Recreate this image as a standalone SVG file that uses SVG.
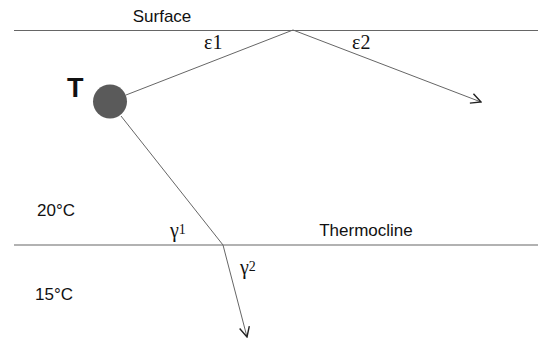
<svg xmlns="http://www.w3.org/2000/svg" width="538" height="340" viewBox="0 0 538 340">
<style>
.lbl{font-family:"Liberation Sans",Arial,sans-serif;font-size:17px;fill:#111}
.greek{font-family:"Liberation Serif","Times New Roman",serif;font-size:20px;fill:#111}
.boundary{stroke:#666;stroke-width:1.2;fill:none}
.ray{stroke:#666;stroke-width:1;fill:none}
</style>
<defs>
<marker id="arr" viewBox="0 0 12 12" refX="11" refY="6" markerWidth="12" markerHeight="12" markerUnits="userSpaceOnUse" orient="auto">
<path d="M1,1 L11,6 L1,11" fill="none" stroke="#222" stroke-width="1.4"/>
</marker>
</defs>
<rect width="538" height="340" fill="#fff"/>
<g id="boundaries">
<line class="boundary" x1="14" y1="30.5" x2="538" y2="30.5"/>
<line class="boundary" x1="14" y1="245" x2="538" y2="245"/>
</g>
<g id="connectors">
<polyline class="ray" points="126,95 293,30 481,102" marker-end="url(#arr)"/>
<polyline class="ray" points="121,116 223,245 247,337" marker-end="url(#arr)"/>
</g>
<g id="node-T">
<circle cx="110" cy="101.5" r="17" fill="#5a5a5a"/>
<text x="67" y="97" font-family="Liberation Sans,Arial,sans-serif" font-size="27" font-weight="bold" fill="#111">T</text>
</g>
<g id="labels">
<text class="lbl" x="162" y="22" text-anchor="middle">Surface</text>
<text class="lbl" x="366" y="236" text-anchor="middle">Thermocline</text>
<text class="lbl" x="37" y="216">20°C</text>
<text class="lbl" x="35" y="300">15°C</text>
<text class="greek" x="204" y="49">ε1</text>
<text class="greek" x="352" y="49">ε2</text>
<text class="greek" x="170" y="237">γ<tspan font-size="14" dy="-3">1</tspan></text>
<text class="greek" x="240" y="274">γ<tspan font-size="14" dy="-3">2</tspan></text>
</g>
</svg>
